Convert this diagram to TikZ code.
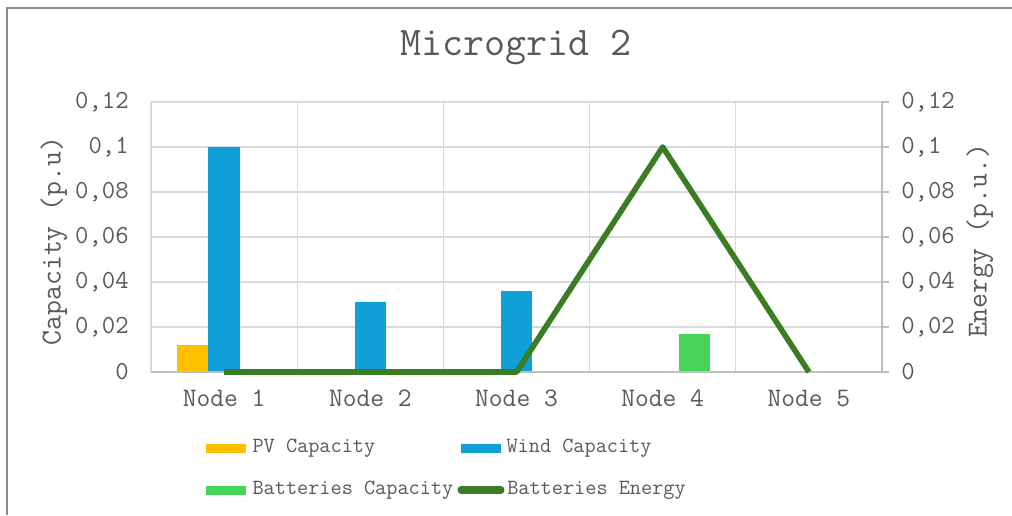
\documentclass[tikz,border=0pt]{standalone}
\usepackage{fontspec}
\usetikzlibrary{positioning}

\definecolor{pvcol}{HTML}{FFC000}
\definecolor{windcol}{HTML}{0F9ED5}
\definecolor{battcol}{HTML}{47D45A}
\definecolor{energycol}{HTML}{3B7D23}
\definecolor{gridcol}{HTML}{D9D9D9}
\definecolor{axiscol}{HTML}{BFBFBF}
\definecolor{framecol}{HTML}{8C8C8C}
\definecolor{txtcol}{HTML}{595959}

\begin{document}
\begin{tikzpicture}[x=0.025cm, y=-0.025cm,
    chartfont/.style={font=\ttfamily\fontsize{#1}{#1}\selectfont, text=txtcol, inner sep=0pt},
    ticklabel/.style={chartfont=18.5},
    catlabel/.style={chartfont=19},
    legendtext/.style={chartfont=15.4, anchor=west},
    axistitle/.style={chartfont=20.6, rotate=90},
    swatch/.style={minimum width=40*0.025cm, minimum height=9*0.025cm, inner sep=0pt}]
    \useasboundingbox (0,0) rectangle (1012,515);
    \draw[framecol, line width=1.4pt] (7,515) -- (7,8) -- (1012,8);

    % grid
    \foreach \k in {1,...,6}
        \draw[gridcol, line width=0.8pt] (151,{372-45*\k}) -- (882,{372-45*\k});
    \foreach \k in {0,...,4}
        \draw[gridcol, line width=0.8pt] ({151+146.2*\k},102) -- ({151+146.2*\k},372);

    % bars
    \foreach \c/\pv/\wind/\batt in {1/0.012/0.1/0, 2/0/0.031/0, 3/0/0.036/0, 4/0/0/0.017, 5/0/0/0} {
        \pgfmathsetmacro{\xc}{151+146.2*(\c-0.5)}
        \fill[pvcol] ({\xc-47.5},372) rectangle ({\xc-15.8},{372-2250*\pv});
        \fill[windcol] ({\xc-15.8},372) rectangle ({\xc+15.8},{372-2250*\wind});
        \fill[battcol] ({\xc+15.8},372) rectangle ({\xc+47.5},{372-2250*\batt});
        \coordinate (cat\c) at (\xc,372);
        \node[catlabel] (node\c) at (\xc,398) {Node \c};
    }

    % axes
    \draw[axiscol, line width=0.8pt] (151,372) -- (882,372);
    \draw[axiscol, line width=0.8pt] (882,102) -- (882,372);
    \foreach \k/\lbl in {0/0, 1/{0,02}, 2/{0,04}, 3/{0,06}, 4/{0,08}, 5/{0,1}, 6/{0,12}} {
        \draw[axiscol, line width=0.8pt] (882,{372-45*\k}) -- (889,{372-45*\k});
        \node[ticklabel, anchor=east] (lt\k) at (129,{372-45*\k}) {\lbl};
        \node[ticklabel, anchor=west] (rt\k) at (901,{372-45*\k}) {\lbl};
    }

    % energy line
    \foreach \c/\en in {1/0, 2/0, 3/0, 4/0.1, 5/0}
        \coordinate (e\c) at ([yshift={2250*\en*0.025cm}]cat\c);
    \draw[energycol, line width=4pt, line join=round] (e1) -- (e2) -- (e3) -- (e4) -- (e5);

    % titles
    \node[chartfont=29] (title) at (516,47) {Microgrid 2};
    \node[axistitle] (ytitle) at (54,241) {Capacity (p.u)};
    \node[axistitle] (y2title) at (980,241) {Energy (p.u.)};

    % legend
    \node[swatch, fill=pvcol] (pvkey) at (226,448) {};
    \node[legendtext] (pvtext) [right=6*0.025cm of pvkey] {PV Capacity};
    \node[swatch, fill=windcol] (windkey) at (481,448) {};
    \node[legendtext] (windtext) [right=5*0.025cm of windkey] {Wind Capacity};
    \node[swatch, fill=battcol] (battkey) at (226,490) {};
    \node[legendtext] (batttext) [right=6*0.025cm of battkey] {Batteries Capacity};
    \coordinate (enkeyA) at (461,490);
    \coordinate (enkeyB) at (501,490);
    \draw[energycol, line width=5pt, line cap=round] (enkeyA) -- (enkeyB);
    \node[legendtext] (entext) at (507,490) {Batteries Energy};
\end{tikzpicture}
\end{document}
